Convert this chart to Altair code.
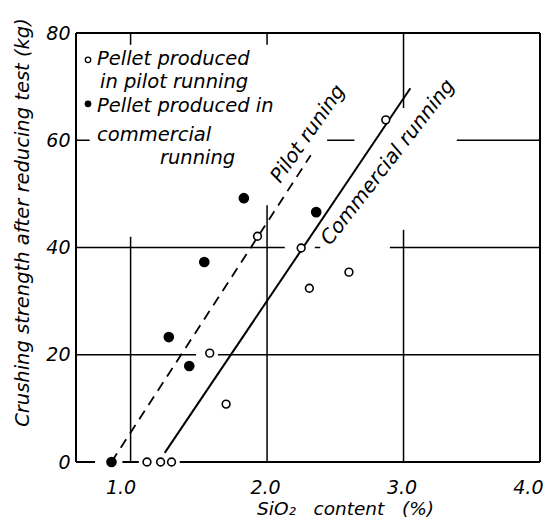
import altair as alt
import pandas as pd

FONT = "DejaVu Sans"

# --- data ---
pilot_x = [1.12, 1.22, 1.30, 1.58, 1.70, 1.93, 2.25, 2.31, 2.60, 2.87]
pilot_y = [0, 0, 0, 20.3, 10.8, 42.1, 39.9, 32.4, 35.4, 63.8]
comm_x = [0.86, 1.28, 1.43, 1.54, 1.83, 2.36]
comm_y = [0, 23.3, 17.9, 37.3, 49.2, 46.6]

# fitted lines (start, end)
pilot_line_x = [0.86, 2.32]
pilot_line_y = [0, 57.2]
comm_line_x = [1.25, 3.05]
comm_line_y = [1.7, 69.7]

# frame segments (x, x2, y, y2)
frame_x = [0.6, 4.0, 0.6, 0.6, 0.94, 1.36]
frame_x2 = [0.6, 4.0, 4.0, 0.74, 1.06, 4.0]
frame_y = [0, 0, 80, 0, 0, 0]
frame_y2 = [80, 80, 80, 0, 0, 0]

# grid segments with gaps as in the original (x, x2, y, y2)
grid_x = [0.6, 1.64, 0.6, 2.35, 2.90, 0.6, 2.44, 3.39, 1.0, 1.0, 2.0, 2.0, 3.0, 3.0]
grid_x2 = [1.48, 4.0, 2.13, 2.39, 4.0, 0.70, 2.64, 4.0, 1.0, 1.0, 2.0, 2.0, 3.0, 3.0]
grid_y = [20, 20, 40, 40, 40, 60, 60, 60, 0, 77.8, 0, 77.8, 0, 66.0]
grid_y2 = [20, 20, 40, 40, 40, 60, 60, 60, 42.0, 80, 47.9, 80, 43.3, 80]

legend_lines = ["Pellet produced", "in pilot running", "Pellet produced in", "commercial", "running"]
legend_x = [0.754, 0.776, 0.754, 0.754, 1.215]
legend_y = [75.2, 70.9, 66.3, 61.0, 56.7]
legend_sym_x = [0.688, 0.688]
legend_sym_y = [75.0, 66.8]
legend_sym_fill = ["white", "black"]

line_labels = ["Pilot runing", "Commercial running"]
line_label_x = [2.30, 2.886]
line_label_y = [61.2, 55.9]
line_label_angle = [305, 308]

x_ticks = [1.0, 2.0, 3.0, 4.0]
y_ticks = [0, 20, 40, 60, 80]

NBSP = "\u00a0"
x_title = "SiO₂" + NBSP * 3 + "content" + NBSP * 3 + "(%)"

xscale = alt.Scale(domain=[0.6, 4.0], nice=False, zero=False)
yscale = alt.Scale(domain=[0, 80], nice=False)

xaxis = alt.Axis(values=x_ticks, format=".1f", grid=False, domain=False, ticks=False,
                 labelFont=FONT, labelFontStyle="italic", labelFontSize=19, labelColor="black",
                 labelPadding=16, labelFlush=False,
                 labelAlign={"expr": "datum.value == 4 ? 'right' : 'center'"},
                 labelOffset={"expr": "datum.value == 1 ? -10 : (datum.value == 4 ? 3 : -2)"},
                 title=x_title, titleFont=FONT, titleFontStyle="italic",
                 titleFontWeight="normal", titleFontSize=18.5, titleColor="black",
                 titleX=269, titleY=46, titleBaseline="middle", titleAlign="center")
yaxis = alt.Axis(values=y_ticks, grid=False, domain=False, ticks=False,
                 labelFont=FONT, labelFontStyle="italic", labelFontSize=19, labelColor="black",
                 labelPadding=6,
                 title="Crushing strength after reducing test (kg)", titleFont=FONT,
                 titleFontStyle="italic", titleFontWeight="normal", titleFontSize=19.5,
                 titleColor="black", titleX=-54, titleY=189, titleAngle=270,
                 titleBaseline="middle", titleAlign="center")

def X(f):
    return alt.X(f, type="quantitative", scale=xscale, axis=xaxis)

def Y(f):
    return alt.Y(f, type="quantitative", scale=yscale, axis=yaxis)

frame_df = pd.DataFrame({"x": frame_x, "x2": frame_x2, "y": frame_y, "y2": frame_y2})
grid_df = pd.DataFrame({"x": grid_x, "x2": grid_x2, "y": grid_y, "y2": grid_y2})
pl_df = pd.DataFrame({"x": [pilot_line_x[0]], "x2": [pilot_line_x[1]],
                      "y": [pilot_line_y[0]], "y2": [pilot_line_y[1]]})
cl_df = pd.DataFrame({"x": [comm_line_x[0]], "x2": [comm_line_x[1]],
                      "y": [comm_line_y[0]], "y2": [comm_line_y[1]]})
pilot_df = pd.DataFrame({"x": pilot_x, "y": pilot_y})
comm_df = pd.DataFrame({"x": comm_x, "y": comm_y})
leg_df = pd.DataFrame({"x": legend_x, "y": legend_y, "t": legend_lines})
sym_df = pd.DataFrame({"x": legend_sym_x, "y": legend_sym_y, "f": legend_sym_fill})
lab_df = pd.DataFrame({"x": line_label_x, "y": line_label_y, "t": line_labels, "a": line_label_angle})

def seg(df, **kw):
    return alt.Chart(df).mark_rule(color="black", **kw).encode(
        x=X("x"), x2="x2", y=Y("y"), y2="y2")

frame = seg(frame_df, strokeWidth=2)
grid = seg(grid_df, strokeWidth=1.5)
pline = seg(pl_df, strokeWidth=1.8, strokeDash=[10, 7])
cline = seg(cl_df, strokeWidth=2)

pilot_pts = alt.Chart(pilot_df).mark_point(shape="circle", filled=True, fill="white",
                                           stroke="black", strokeWidth=1.6, size=60, opacity=1).encode(
    x=X("x"), y=Y("y"))
comm_pts = alt.Chart(comm_df).mark_point(shape="circle", filled=True, fill="black",
                                         stroke="black", size=75, opacity=1).encode(
    x=X("x"), y=Y("y"))

leg_text = alt.Chart(leg_df).mark_text(font=FONT, fontStyle="italic", fontSize=19.5,
                                       align="left", baseline="middle", color="black").encode(
    x=X("x"), y=Y("y"), text="t:N")
leg_sym = alt.Chart(sym_df).mark_point(shape="circle", filled=True, stroke="black",
                                       strokeWidth=1.3, size=30, opacity=1).encode(
    x=X("x"), y=Y("y"), fill=alt.Fill("f:N", scale=None))

lab_text = alt.Chart(lab_df).mark_text(font=FONT, fontStyle="italic", fontSize=20,
                                       align="center", baseline="middle", color="black").encode(
    x=X("x"), y=Y("y"), text="t:N", angle=alt.Angle("a:Q", scale=None))

chart = alt.layer(grid, frame, pline, cline, pilot_pts, comm_pts, leg_sym, leg_text, lab_text).properties(
    width=464, height=429, autosize="none",
    padding={"left": 68, "top": 25, "right": 4, "bottom": 56},
    background="white",
).configure_view(stroke=None)

chart.save("out.html", embed_options={"renderer": "svg", "actions": False})
